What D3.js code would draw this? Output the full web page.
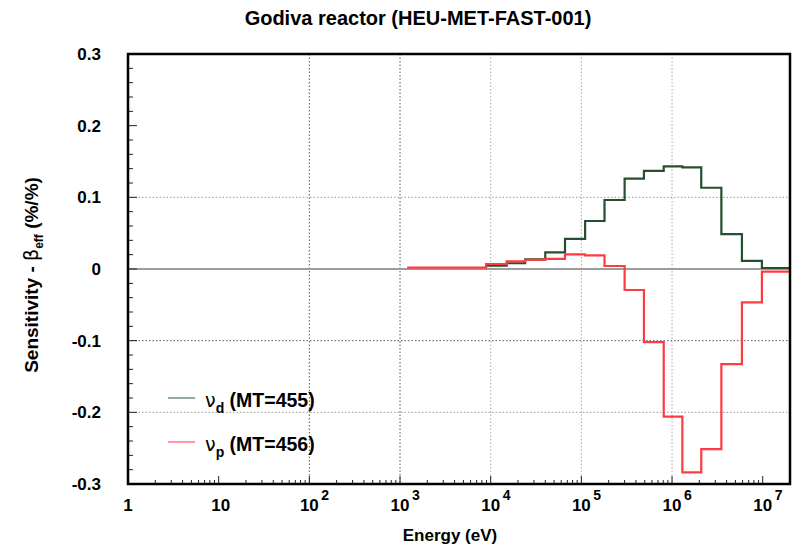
<!DOCTYPE html>
<html lang="en">

<head>
    <meta charset="UTF-8">
    <title>Godiva reactor</title>
    <style>
        body { margin: 0; background: #fff; }
        text { font-family: "Liberation Sans", Arial, sans-serif; font-weight: bold; fill: #000; }
        .sym { font-family: "DejaVu Sans", sans-serif; font-weight: normal; }
    </style>
</head>

<body>
    <svg width="796" height="548"></svg>
    <script src="https://d3js.org/d3.v7.min.js"></script>
    <script>

        // energy group boundaries (eV)
        let bounds = [1.2e3, 1.95e3, 3.2e3, 5.3e3, 8.9e3, 1.5e4, 2.4e4, 4e4, 6.6e4, 1.1e5,
            1.8e5, 3e5, 4.9e5, 8.1e5, 1.3e6, 2.1e6, 3.5e6, 5.9e6, 9.8e6, 2e7];

        // nu_d (MT=455), one value per group (null = not drawn)
        let nuD = [null, null, null, null, 0.0046, 0.008, 0.0135, 0.0233, 0.0419, 0.067,
            0.0963, 0.126, 0.137, 0.1433, 0.1419, 0.1134, 0.0488, 0.0112, 0.0014];

        // nu_p (MT=456)
        let nuP = [0.0018, 0.0018, 0.0018, 0.0018, 0.007, 0.0107, 0.0126, 0.014, 0.0205, 0.0191,
            0.0042, -0.0293, -0.102, -0.206, -0.2837, -0.2512, -0.1326, -0.0465, -0.0038];

        let yTicks = [0.3, 0.2, 0.1, 0, -0.1, -0.2, -0.3];
        let yGrid = [0.1, -0.1, -0.2];
        let xDecades = [0, 1, 2, 3, 4, 5, 6, 7];
        let xGrid = [1e2, 1e3, 1e4, 1e5, 1e6];

        let svg = d3.select("svg"),
            margin = { top: 54, right: 6, bottom: 64, left: 128 },
            width = +svg.attr("width") - margin.left - margin.right,
            height = +svg.attr("height") - margin.top - margin.bottom,
            g = svg.append("g").attr("transform", "translate(" + margin.left + "," + margin.top + ")");

        let x = d3.scaleLog().domain([1, 2e7]).range([0, width]);
        let y = d3.scaleLinear().domain([-0.3, 0.3]).range([height, 0]);

        // grid
        g.selectAll(".vgrid").data(xGrid).enter().append("line")
            .attr("x1", d => x(d)).attr("x2", d => x(d))
            .attr("y1", 0).attr("y2", height)
            .attr("stroke", d => d <= 1e3 ? "#555" : "#aaa")
            .attr("stroke-width", 1)
            .attr("stroke-dasharray", "1.5,2");

        g.selectAll(".hgrid").data(yGrid).enter().append("line")
            .attr("x1", 0).attr("x2", width)
            .attr("y1", d => y(d)).attr("y2", d => y(d))
            .attr("stroke", d => d == -0.1 ? "#555" : "#999")
            .attr("stroke-width", 1)
            .attr("stroke-dasharray", "1.5,2");

        // zero line
        g.append("line")
            .attr("x1", 0).attr("x2", width)
            .attr("y1", y(0)).attr("y2", y(0))
            .attr("stroke", "#9c9c9c")
            .attr("stroke-width", 2);

        // x ticks (inside, pointing up)
        let minor = [];
        for (let p = 0; p < 8; p++)
            for (let k = 2; k <= 9; k++)
                if (k * Math.pow(10, p) <= 2e7) minor.push(k * Math.pow(10, p));

        g.selectAll(".xminor").data(minor).enter().append("line")
            .attr("x1", d => x(d)).attr("x2", d => x(d))
            .attr("y1", height).attr("y2", height - 4)
            .attr("stroke", "#222");

        g.selectAll(".xmajor").data(xDecades.slice(1)).enter().append("line")
            .attr("x1", d => x(Math.pow(10, d))).attr("x2", d => x(Math.pow(10, d)))
            .attr("y1", height).attr("y2", height - 8)
            .attr("stroke", "#222");

        // y ticks (inside, pointing right)
        let yMinor = d3.range(-14, 15).map(i => i * 0.02).filter(v => Math.abs(Math.round(v * 10) - v * 10) > 1e-6);
        g.selectAll(".yminor").data(yMinor).enter().append("line")
            .attr("x1", 0).attr("x2", 5)
            .attr("y1", d => y(d)).attr("y2", d => y(d))
            .attr("stroke", "#222");
        g.selectAll(".ymajor").data(yTicks.slice(1, -1)).enter().append("line")
            .attr("x1", 0).attr("x2", 9)
            .attr("y1", d => y(d)).attr("y2", d => y(d))
            .attr("stroke", "#222");

        // step curves
        function steps(vals) {
            let pts = [];
            vals.forEach((v, i) => { if (v !== null) pts.push([bounds[i], v]); });
            let lastI = vals.length - 1;
            pts.push([bounds[lastI + 1], vals[lastI]]);
            return pts;
        }
        let line = d3.line()
            .x(d => x(d[0]))
            .y(d => y(d[1]))
            .curve(d3.curveStepAfter);

        g.append("path")
            .datum(steps(nuD))
            .attr("fill", "none")
            .attr("stroke", "#24502f")
            .attr("stroke-width", 2.2)
            .attr("d", line);

        g.append("path")
            .datum(steps(nuP))
            .attr("fill", "none")
            .attr("stroke", "#ff3b42")
            .attr("stroke-width", 2.2)
            .attr("d", line);

        // frame
        g.append("rect")
            .attr("width", width).attr("height", height)
            .attr("fill", "none")
            .attr("stroke", "#000")
            .attr("stroke-width", 2.5);

        // y tick labels
        g.selectAll(".ylab").data(yTicks).enter().append("text")
            .attr("x", -27).attr("y", d => y(d) + 6)
            .attr("text-anchor", "end")
            .style("font-size", "17px")
            .text(d => d === 0 ? "0" : (d < 0 ? "-" : "") + d3.format(".1f")(Math.abs(d)));

        // x tick labels
        let xl = g.selectAll(".xlab").data(xDecades).enter().append("g")
            .attr("transform", d => "translate(" + x(Math.pow(10, d)) + "," + (height + 27) + ")");
        xl.append("text")
            .attr("x", d => d == 1 ? 2 : 0)
            .attr("text-anchor", "middle")
            .style("font-size", "17px")
            .text(d => d == 0 ? "1" : "10");
        xl.filter(d => d >= 2).append("text")
            .attr("x", 12).attr("y", -11)
            .style("font-size", "14px")
            .text(d => d);

        // axis titles
        svg.append("text")
            .attr("x", margin.left + 322).attr("y", 541)
            .attr("text-anchor", "middle")
            .style("font-size", "17px")
            .text("Energy (eV)");

        let yt = svg.append("text")
            .attr("transform", "translate(38,275) rotate(-90)")
            .attr("text-anchor", "middle")
            .style("font-size", "19px");
        yt.append("tspan").text("Sensitivity - ");
        yt.append("tspan").attr("class", "sym").text("β");
        yt.append("tspan").attr("dy", 5).style("font-size", "12px").text("eff");
        yt.append("tspan").attr("dy", -5).text(" (%/%)");

        // title
        svg.append("text")
            .attr("x", 418).attr("y", 25)
            .attr("text-anchor", "middle")
            .style("font-size", "20px")
            .text("Godiva reactor (HEU-MET-FAST-001)");

        // legend
        let legend = [
            { sub: "d", label: " (MT=455)", color: "#4a7556" },
            { sub: "p", label: " (MT=456)", color: "#ff5560" }
        ];
        let lg = svg.selectAll(".leg").data(legend).enter().append("g")
            .attr("transform", (d, i) => "translate(168," + (398 + i * 44) + ")");
        lg.append("line")
            .attr("x1", 0).attr("x2", 27)
            .attr("stroke", d => d.color)
            .attr("stroke-width", 1.2);
        let lt = lg.append("text")
            .attr("x", 37).attr("y", 9)
            .style("font-size", "19.5px");
        lt.append("tspan").attr("class", "sym").style("font-size", "19px").text("ν");
        lt.append("tspan").attr("dy", 6).style("font-size", "14px").text(d => d.sub);
        lt.append("tspan").attr("dy", -6).text(d => d.label);

    </script>
</body>

</html>
